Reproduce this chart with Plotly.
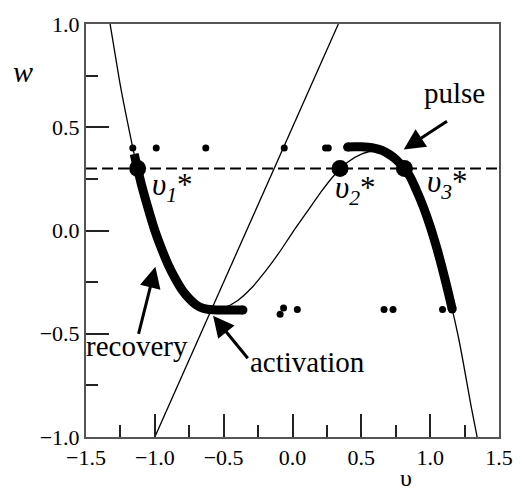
import plotly.graph_objects as go

# ---------------- data ----------------
# cubic nullcline (thin)
cubic_v = [-1.33, -1.30, -1.25, -1.20, -1.15, -1.10, -1.00, -0.90, -0.80, -0.70, -0.60, -0.50,
           -0.40, -0.30, -0.20, -0.10, 0.00, 0.10, 0.20, 0.30, 0.40, 0.50, 0.60, 0.70,
           0.80, 0.90, 1.00, 1.10, 1.20, 1.30, 1.35]
cubic_w = [1.02, 0.90, 0.70, 0.53, 0.37, 0.23, 0.00, -0.17, -0.29, -0.36, -0.385, -0.375,
           -0.34, -0.28, -0.20, -0.11, -0.01, 0.085, 0.18, 0.265, 0.33, 0.37, 0.385, 0.37,
           0.31, 0.19, 0.02, -0.22, -0.50, -0.86, -1.03]

# straight nullcline (thin)
line_v = [-1.00, 0.333]
line_w = [-1.00, 1.00]

# recovery branch (thick)
rec_v = [-1.15, -1.10, -1.05, -1.00, -0.95, -0.90, -0.85, -0.80, -0.75, -0.70, -0.65,
         -0.60, -0.55, -0.50, -0.45, -0.40, -0.36]
rec_w = [0.37, 0.23, 0.11, 0.00, -0.09, -0.17, -0.235, -0.29, -0.33, -0.36, -0.377,
         -0.383, -0.385, -0.385, -0.385, -0.385, -0.385]

# pulse branch (thick)
pulse_v = [0.40, 0.45, 0.50, 0.55, 0.60, 0.65, 0.70, 0.75, 0.80, 0.85, 0.90, 0.95,
           1.00, 1.05, 1.10, 1.16]
pulse_w = [0.404, 0.405, 0.405, 0.403, 0.398, 0.388, 0.37, 0.345, 0.31, 0.265, 0.195,
           0.115, 0.02, -0.09, -0.215, -0.38]

# trajectory time-step dots
dots_top_v = [-1.16, -0.99, -0.63, -0.06, 0.24, 0.26]
dots_top_w = [0.40, 0.40, 0.40, 0.40, 0.40, 0.40]
dots_bot_v = [-0.09, -0.065, 0.035, 0.665, 0.73, 1.09]
dots_bot_w = [-0.405, -0.375, -0.382, -0.382, -0.382, -0.382]

# threshold (dashed) and fixed points
threshold_w = 0.30
axis_v = [-1.5, 1.5]
fixed_v = [-1.125, 0.345, 0.813]
fixed_w = [0.30, 0.30, 0.30]
fixed_labels = ["<i>υ<sub>1</sub></i>*", "<i>υ<sub>2</sub></i>*", "<i>υ<sub>3</sub></i>*"]

# ---------------- figure ----------------
SERIF = "Liberation Serif"
fig = go.Figure()

fig.add_trace(go.Scatter(x=axis_v, y=[threshold_w, threshold_w], mode="lines",
                         line=dict(color="black", width=2, dash="11px,5px"), hoverinfo="skip"))
fig.add_trace(go.Scatter(x=cubic_v, y=cubic_w, mode="lines",
                         line=dict(color="black", width=1.3, shape="spline"), hoverinfo="skip"))
fig.add_trace(go.Scatter(x=line_v, y=line_w, mode="lines",
                         line=dict(color="black", width=1.3), hoverinfo="skip"))
fig.add_trace(go.Scatter(x=rec_v, y=rec_w, mode="lines",
                         line=dict(color="black", width=9, shape="spline"), hoverinfo="skip"))
fig.add_trace(go.Scatter(x=pulse_v, y=pulse_w, mode="lines",
                         line=dict(color="black", width=9, shape="spline"), hoverinfo="skip"))
fig.add_trace(go.Scatter(x=[rec_v[-1], pulse_v[0], pulse_v[-1]],
                         y=[rec_w[-1], pulse_w[0], pulse_w[-1]], mode="markers",
                         marker=dict(color="black", size=9), hoverinfo="skip"))
fig.add_trace(go.Scatter(x=dots_top_v + dots_bot_v, y=dots_top_w + dots_bot_w, mode="markers",
                         marker=dict(color="black", size=7), hoverinfo="skip"))
fig.add_trace(go.Scatter(x=fixed_v, y=fixed_w, mode="markers",
                         marker=dict(color="black", size=17), hoverinfo="skip"))

def label(x, y, text, size=29, xref="x", yref="y", yanchor="middle"):
    fig.add_annotation(x=x, y=y, xref=xref, yref=yref, text=text, showarrow=False,
                       xanchor="center", yanchor=yanchor,
                       font=dict(family=SERIF, size=size, color="black"))

label_pos = [(-0.875, 0.212), (0.455, 0.198), (1.125, 0.225)]
for (lx, ly), txt in zip(label_pos, fixed_labels):
    label(lx, ly, txt, size=31)

label(1.18, 0.665, "pulse")
label(-1.13, -0.56, "recovery")
label(0.11, -0.635, "activation")

arrows = [((0.808, 0.392), (1.133, 0.534)),
          ((-0.996, -0.176), (-1.121, -0.508)),
          ((-0.577, -0.413), (-0.316, -0.626))]
for (hx, hy), (tx, ty) in arrows:
    fig.add_annotation(x=hx, y=hy, ax=tx, ay=ty, xref="x", yref="y", axref="x", ayref="y",
                       text="", showarrow=True, arrowhead=2, arrowsize=1.4, arrowwidth=3,
                       arrowcolor="black")

label(-0.152, 0.885, "<i>w</i>", size=30, xref="paper", yref="paper")
label(0.775, -0.135, "υ", size=24, xref="paper", yref="paper", yanchor="bottom")

axis_common = dict(showgrid=False, zeroline=False, showline=True, linecolor="#555555",
                   linewidth=2, mirror=True, ticks="inside", ticklen=23, tickwidth=1.5,
                   tickcolor="#222222", tickmode="linear", dtick=0.5, tickformat=".1f",
                   tickfont=dict(family=SERIF, size=22, color="black"),
                   minor=dict(ticks="inside", ticklen=12, dtick=0.25, tickwidth=1.5,
                              tickcolor="#222222", showgrid=False))
fig.update_xaxes(range=[-1.5, 1.5], tick0=-1.5, **axis_common)
fig.update_yaxes(range=[-1.0, 1.0], tick0=-1.0, **axis_common)

fig.update_layout(width=525, height=491, margin=dict(l=86, r=16, t=15, b=54),
                  showlegend=False, plot_bgcolor="white", paper_bgcolor="white")

fig.write_html("out.html")
